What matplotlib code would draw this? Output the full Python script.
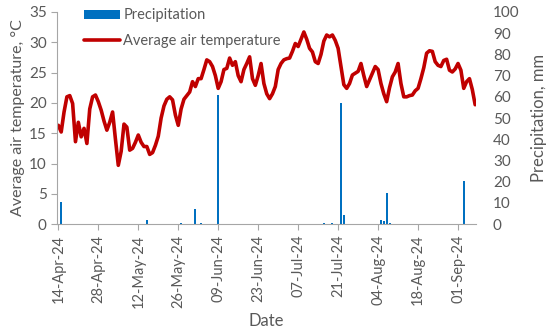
import pandas as pd
import matplotlib.pyplot as plt
import matplotlib.dates as mdates

# daily average air temperature, 14-Apr-24 .. 07-Sep-24
temp_start = "2024-04-14"
temp_values = [
    16.3, 15.2, 18.5, 21.0, 21.2, 19.9, 13.6, 16.8, 14.4, 15.8,
    13.3, 19.0, 21.0, 21.3, 20.2, 18.8, 17.0, 15.5, 16.8, 18.5,
    14.0, 9.7, 12.0, 16.5, 16.0, 12.2, 12.5, 13.5, 14.7, 13.5,
    12.8, 12.8, 11.5, 11.8, 13.0, 14.5, 17.5, 19.5, 20.6, 21.0,
    20.5, 18.0, 16.3, 19.0, 20.6, 21.2, 21.8, 23.5, 22.7, 24.0,
    24.0, 25.5, 27.1, 26.8, 26.0, 24.5, 22.4, 23.5, 25.5, 25.7,
    27.4, 26.2, 26.8, 24.5, 23.5, 25.5, 26.5, 27.6, 24.0, 22.9,
    24.5, 26.5, 23.2, 21.5, 20.7, 21.5, 22.7, 25.5, 26.5, 27.1,
    27.3, 27.4, 28.5, 29.8, 29.3, 30.5, 31.7, 30.5, 29.0, 28.4,
    26.8, 26.5, 28.0, 30.2, 31.2, 30.9, 31.2, 30.3, 29.0, 26.0,
    23.0, 22.4, 23.2, 24.6, 24.9, 25.2, 26.5, 24.5, 22.7, 23.8,
    24.9, 26.0, 25.5, 23.2, 21.5, 20.2, 22.5, 24.3, 25.1, 26.5,
    23.2, 21.0, 21.0, 21.2, 21.3, 22.0, 22.4, 24.0, 25.8, 28.2,
    28.6, 28.5, 26.8, 26.2, 26.0, 27.0, 27.2, 25.4, 25.1, 25.6,
    26.5, 25.4, 22.4, 23.5, 24.0, 22.2, 19.7,
]

# precipitation, mm (only days with rain)
rain_dates = [
    "2024-04-15", "2024-05-15", "2024-05-27", "2024-06-01", "2024-06-03",
    "2024-06-09", "2024-06-25", "2024-07-16", "2024-07-19", "2024-07-22",
    "2024-07-23", "2024-08-05", "2024-08-06", "2024-08-07", "2024-08-08",
    "2024-09-03",
]
rain_values = [10.2, 1.9, 0.3, 7.1, 0.3, 61.0, 0.2, 0.3, 0.3, 57.3,
               4.1, 1.9, 1.6, 14.5, 0.3, 20.1]

tick_start = "2024-04-14"
tick_end = "2024-09-01"

TXT = "#595959"
plt.rcParams['font.family'] = ['Lato', 'DejaVu Sans']

days = pd.date_range(temp_start, periods=len(temp_values), freq="D")
rdays = pd.to_datetime(rain_dates)

fig = plt.figure(figsize=(5.5, 3.33), dpi=100)
ax1 = fig.add_axes([0.104, 0.327, 0.762, 0.637])
ax2 = ax1.twinx()
ax1.set_zorder(ax2.get_zorder() + 1)
ax1.patch.set_visible(False)

bars = ax2.bar(rdays, rain_values, width=0.7, color="#0070C0", label="Precipitation")
line, = ax1.plot(days, temp_values, color="#C00000", lw=2.6, label="Average air temperature",
                 solid_capstyle="round", solid_joinstyle="round")

ax1.set_ylim(0, 35)
ax1.set_yticks(range(0, 36, 5))
ax2.set_ylim(0, 100)
ax2.set_yticks(range(0, 101, 10))
ax1.set_xlim(days[0] - pd.Timedelta(days=0.4), days[-1] + pd.Timedelta(days=0.4))
ax1.set_xticks(pd.date_range(tick_start, tick_end, freq="14D"))
ax1.xaxis.set_major_formatter(mdates.DateFormatter("%d-%b-%y"))

for a in (ax1, ax2):
    for s in a.spines.values():
        s.set_visible(False)
ax1.spines['left'].set_visible(True)
ax1.spines['bottom'].set_visible(True)
ax1.spines['left'].set_color("#A6A6A6")
ax1.spines['bottom'].set_color("#A6A6A6")

ax1.tick_params(axis='x', colors="#A6A6A6", labelcolor=TXT, labelsize=10.5, rotation=90, length=4)
ax1.tick_params(axis='y', colors="#A6A6A6", labelcolor=TXT, labelsize=11, length=4)
ax2.tick_params(axis='y', length=0, labelcolor=TXT, labelsize=11, pad=12)

ax1.set_xlabel("Date", color=TXT, fontsize=12)
ax1.set_ylabel("Average air temperature, °C", color=TXT, fontsize=11.5, labelpad=3)
ax2.set_ylabel("Precipitation, mm", color=TXT, fontsize=12, labelpad=8)

ax1.legend([bars, line], ["Precipitation", "Average air temperature"], loc="upper left",
           bbox_to_anchor=(0.05, 1.045), frameon=False, fontsize=10.5, labelcolor=TXT,
           handlelength=2.5, handleheight=0.6, handletextpad=0.2, borderaxespad=0,
           labelspacing=0.8)

fig.savefig("out.png", dpi=100)
